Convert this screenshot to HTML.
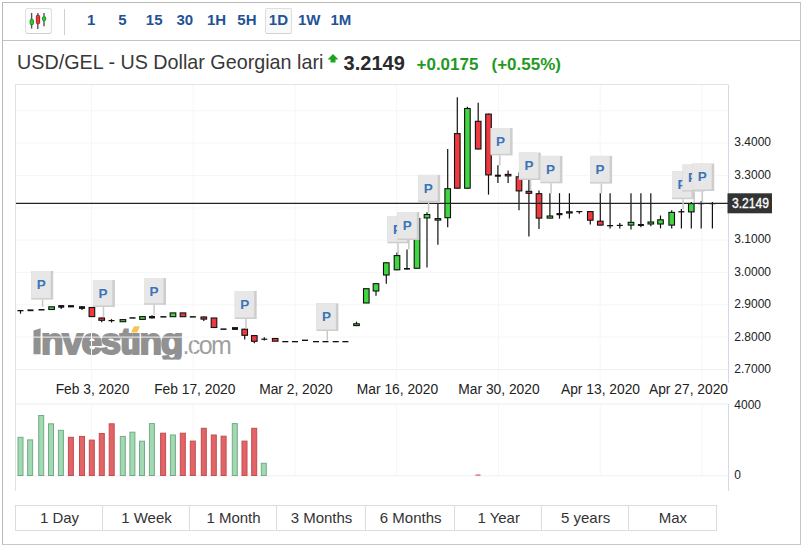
<!DOCTYPE html>
<html><head><meta charset="utf-8"><style>
*{margin:0;padding:0;box-sizing:border-box}
html,body{width:801px;height:546px;overflow:hidden;background:#fff;font-family:"Liberation Sans",sans-serif}
.frame{position:absolute;left:2px;top:2px;width:799px;height:543px;border:1px solid #b9b9b9;border-right-color:#c4c4c4;border-bottom-color:#c8c8c8}
.tb{position:absolute;left:3px;top:40px;width:797px;height:1px;background:#c3c3c3}
.ibox{position:absolute;left:25px;top:8px;width:27px;height:26px;border:1px solid #e0e0e0;border-bottom-color:#d0d0d0;border-radius:3px;background:#fcfcfc}
.sep{position:absolute;left:64px;top:9px;width:1px;height:26px;background:#d0d0d0}
.b{position:absolute;top:11.2px;font-size:15px;font-weight:700;color:#1f5396;line-height:18px}
.sel{position:absolute;left:265px;top:8px;width:27px;height:26px;border:1px solid #dedede;border-bottom-color:#d2d2d2;border-radius:2px;background:#f9f9f9}
.title{position:absolute;left:17.3px;top:51px;font-size:20.3px;color:#383838;white-space:nowrap;line-height:22px;transform:scaleX(0.973);transform-origin:0 0}
.price{position:absolute;left:343.6px;top:52px;font-size:20px;font-weight:700;color:#2a2a2a;line-height:22px}
.chg{position:absolute;top:55px;font-size:17px;font-weight:700;color:#1f9a22;line-height:20px;white-space:nowrap}
.btns{position:absolute;left:15px;top:505px;width:702px;height:26px;border:1px solid #dcdcdc}
.bs{position:absolute;top:506px;width:1px;height:24px;background:#dcdcdc}
.bt{position:absolute;top:506px;height:24px;text-align:center;font-size:15px;color:#333;line-height:24px;white-space:nowrap}
</style></head><body>
<div class="frame"></div>
<div class="tb"></div>
<div class="ibox"></div>
<svg style="position:absolute;left:0;top:0" width="801" height="546">
<g stroke="#555" stroke-width="1.4"><line x1="31.6" y1="13" x2="31.6" y2="28.6"/><line x1="37.8" y1="13" x2="37.8" y2="28.9"/><line x1="44" y1="13" x2="44" y2="26.2"/></g>
<rect x="30.2" y="19.4" width="3.2" height="5.2" rx="1" fill="#2fcc2f" stroke="#178a17" stroke-width="1"/>
<rect x="36.4" y="15.3" width="3.2" height="8.4" rx="1" fill="#ec3b3b" stroke="#a51c1c" stroke-width="1"/>
<rect x="42.5" y="16.8" width="3.2" height="3.8" rx="1" fill="#2fcc2f" stroke="#178a17" stroke-width="1"/>
</svg>
<div class="sep"></div>
<div class="sel"></div>
<div class="b" style="left:87px">1</div>
<div class="b" style="left:118.2px">5</div>
<div class="b" style="left:145.8px">15</div>
<div class="b" style="left:176.5px">30</div>
<div class="b" style="left:206.9px">1H</div>
<div class="b" style="left:237.3px">5H</div>
<div class="b" style="left:268.8px">1D</div>
<div class="b" style="left:298px">1W</div>
<div class="b" style="left:330.5px">1M</div>
<div class="title">USD/GEL - US Dollar Georgian lari</div>
<svg style="position:absolute;left:327px;top:53px" width="13" height="11"><polygon points="6,1 11.5,6.5 8.5,6.5 8.5,9.5 3.5,9.5 3.5,6.5 0.5,6.5" fill="#1ea51e"/></svg>
<div class="price">3.2149</div>
<div class="chg" style="left:416.5px">+0.0175</div>
<div class="chg" style="left:491.5px">(+0.55%)</div>
<svg style="position:absolute;left:0;top:0" width="801" height="546">
<path d="M15.5,491 V84.5 H728.5" fill="none" stroke="#e2e2e2" stroke-width="1"/>
<line x1="15.5" y1="475.8" x2="728" y2="475.8" stroke="#efefef"/>
<line x1="15.5" y1="369.5" x2="728" y2="369.5" stroke="#eeeeee"/>
<line x1="15.5" y1="404" x2="728" y2="404" stroke="#ececec"/>
<defs><clipPath id="wmc"><rect x="0" y="300" width="801" height="59.5"/></clipPath></defs>
<g clip-path="url(#wmc)">
<polygon points="33.5,330.5 40.6,328.3 40.6,354.3 33.5,354.3" fill="#919191"/>
<text x="41" y="354.3" font-family="Liberation Sans" font-weight="700" font-size="37" fill="#919191" stroke="#919191" stroke-width="2" letter-spacing="-1.4">nvestıng</text>
<text x="182.5" y="354" font-family="Liberation Sans" font-size="25" fill="#a0a0a0" letter-spacing="-1.6">.com</text>
</g>
<polygon points="131,332.5 134,326.3 139.8,326.3 137.4,332.5" fill="#f2c45a"/>
<line x1="16" y1="110.8" x2="728" y2="110.8" stroke="#f6f6f6" stroke-width="1"/>
<line x1="16" y1="143.1" x2="728" y2="143.1" stroke="#f6f6f6" stroke-width="1"/>
<line x1="16" y1="175.5" x2="728" y2="175.5" stroke="#f6f6f6" stroke-width="1"/>
<line x1="16" y1="207.8" x2="728" y2="207.8" stroke="#f6f6f6" stroke-width="1"/>
<line x1="16" y1="240.1" x2="728" y2="240.1" stroke="#f6f6f6" stroke-width="1"/>
<line x1="16" y1="272.4" x2="728" y2="272.4" stroke="#f6f6f6" stroke-width="1"/>
<line x1="16" y1="304.8" x2="728" y2="304.8" stroke="#f6f6f6" stroke-width="1"/>
<line x1="16" y1="337.1" x2="728" y2="337.1" stroke="#f6f6f6" stroke-width="1"/>
<line x1="91.5" y1="85" x2="91.5" y2="382" stroke="#f6f6f6" stroke-width="1"/>
<line x1="91.5" y1="404" x2="91.5" y2="475" stroke="#f6f6f6" stroke-width="1"/>
<line x1="193.2" y1="85" x2="193.2" y2="382" stroke="#f6f6f6" stroke-width="1"/>
<line x1="193.2" y1="404" x2="193.2" y2="475" stroke="#f6f6f6" stroke-width="1"/>
<line x1="295" y1="85" x2="295" y2="382" stroke="#f6f6f6" stroke-width="1"/>
<line x1="295" y1="404" x2="295" y2="475" stroke="#f6f6f6" stroke-width="1"/>
<line x1="396.7" y1="85" x2="396.7" y2="382" stroke="#f6f6f6" stroke-width="1"/>
<line x1="396.7" y1="404" x2="396.7" y2="475" stroke="#f6f6f6" stroke-width="1"/>
<line x1="498.5" y1="85" x2="498.5" y2="382" stroke="#f6f6f6" stroke-width="1"/>
<line x1="498.5" y1="404" x2="498.5" y2="475" stroke="#f6f6f6" stroke-width="1"/>
<line x1="600.2" y1="85" x2="600.2" y2="382" stroke="#f6f6f6" stroke-width="1"/>
<line x1="600.2" y1="404" x2="600.2" y2="475" stroke="#f6f6f6" stroke-width="1"/>
<line x1="701.9" y1="85" x2="701.9" y2="382" stroke="#f6f6f6" stroke-width="1"/>
<line x1="701.9" y1="404" x2="701.9" y2="475" stroke="#f6f6f6" stroke-width="1"/>
<line x1="728.5" y1="85" x2="728.5" y2="383" stroke="#d8d8e4"/>
<line x1="728.5" y1="404" x2="728.5" y2="491" stroke="#d8d8e4"/>
<rect x="18.0" y="437.3" width="5" height="38.2" fill="#a2d8b2" stroke="#72ac86" stroke-width="1"/>
<rect x="27.6" y="439.9" width="5" height="35.6" fill="#a2d8b2" stroke="#72ac86" stroke-width="1"/>
<rect x="38.7" y="415.5" width="5" height="60.0" fill="#a2d8b2" stroke="#72ac86" stroke-width="1"/>
<rect x="48.5" y="423.8" width="5" height="51.7" fill="#a2d8b2" stroke="#72ac86" stroke-width="1"/>
<rect x="58.4" y="430.3" width="5" height="45.2" fill="#a2d8b2" stroke="#72ac86" stroke-width="1"/>
<rect x="68.4" y="437.3" width="5" height="38.2" fill="#e26466" stroke="#c24e50" stroke-width="1"/>
<rect x="79.5" y="436.4" width="5" height="39.1" fill="#e26466" stroke="#c24e50" stroke-width="1"/>
<rect x="89.3" y="440.1" width="5" height="35.4" fill="#e26466" stroke="#c24e50" stroke-width="1"/>
<rect x="99.3" y="433.5" width="5" height="42.0" fill="#e26466" stroke="#c24e50" stroke-width="1"/>
<rect x="109.2" y="423.8" width="5" height="51.7" fill="#e26466" stroke="#c24e50" stroke-width="1"/>
<rect x="120.3" y="436.4" width="5" height="39.1" fill="#a2d8b2" stroke="#72ac86" stroke-width="1"/>
<rect x="129.9" y="432.2" width="5" height="43.3" fill="#a2d8b2" stroke="#72ac86" stroke-width="1"/>
<rect x="139.5" y="441.2" width="5" height="34.3" fill="#a2d8b2" stroke="#72ac86" stroke-width="1"/>
<rect x="149.4" y="423.6" width="5" height="51.9" fill="#a2d8b2" stroke="#72ac86" stroke-width="1"/>
<rect x="160.6" y="433.2" width="5" height="42.3" fill="#e26466" stroke="#c24e50" stroke-width="1"/>
<rect x="170.4" y="435.0" width="5" height="40.5" fill="#a2d8b2" stroke="#72ac86" stroke-width="1"/>
<rect x="180.3" y="433.2" width="5" height="42.3" fill="#e26466" stroke="#c24e50" stroke-width="1"/>
<rect x="190.3" y="441.1" width="5" height="34.4" fill="#e26466" stroke="#c24e50" stroke-width="1"/>
<rect x="201.3" y="428.3" width="5" height="47.2" fill="#e26466" stroke="#c24e50" stroke-width="1"/>
<rect x="211.3" y="435.0" width="5" height="40.5" fill="#e26466" stroke="#c24e50" stroke-width="1"/>
<rect x="221.1" y="436.2" width="5" height="39.3" fill="#e26466" stroke="#c24e50" stroke-width="1"/>
<rect x="232.3" y="423.6" width="5" height="51.9" fill="#a2d8b2" stroke="#72ac86" stroke-width="1"/>
<rect x="242.0" y="441.1" width="5" height="34.4" fill="#e26466" stroke="#c24e50" stroke-width="1"/>
<rect x="251.7" y="428.3" width="5" height="47.2" fill="#e26466" stroke="#c24e50" stroke-width="1"/>
<rect x="261.3" y="463.3" width="5" height="12.2" fill="#a2d8b2" stroke="#72ac86" stroke-width="1"/>
<rect x="475.5" y="474.5" width="5" height="1.2" fill="#d05a5c"/>
<line x1="20.5" y1="310.0" x2="20.5" y2="313.7" stroke="#111" stroke-width="1.2"/>
<rect x="17.5" y="310.0" width="6" height="1.3" fill="#111"/>
<rect x="27.5" y="309.4" width="6" height="1.8" fill="#111"/>
<rect x="38.5" y="309.0" width="6" height="1.5" fill="#111"/>
<rect x="48.8" y="306.8" width="5.6" height="2.7" fill="#3fd63f" stroke="#111" stroke-width="1.1"/>
<line x1="61.2" y1="305.1" x2="61.2" y2="308.9" stroke="#111" stroke-width="1.2"/>
<rect x="58.2" y="305.1" width="6" height="2.6" fill="#111"/>
<rect x="68.0" y="305.1" width="6" height="2.3" fill="#111"/>
<line x1="82.0" y1="306.2" x2="82.0" y2="310.0" stroke="#111" stroke-width="1.2"/>
<rect x="79.0" y="306.2" width="6" height="2.7" fill="#111"/>
<rect x="89.1" y="307.5" width="5.6" height="9.1" fill="#ee3a3f" stroke="#111" stroke-width="1.1"/>
<line x1="101.7" y1="317.5" x2="101.7" y2="322.3" stroke="#111" stroke-width="1.2"/>
<rect x="98.9" y="318.0" width="5.6" height="2.3" fill="#ee3a3f" stroke="#111" stroke-width="1.1"/>
<line x1="111.5" y1="319.1" x2="111.5" y2="322.5" stroke="#111" stroke-width="1.2"/>
<rect x="108.5" y="320.0" width="6" height="1.2" fill="#111"/>
<rect x="120.1" y="319.6" width="5.6" height="2.1" fill="#3fd63f" stroke="#111" stroke-width="1.1"/>
<rect x="129.5" y="317.2" width="6" height="1.5" fill="#111"/>
<rect x="139.7" y="316.6" width="5.6" height="2.8" fill="#3fd63f" stroke="#111" stroke-width="1.1"/>
<line x1="152.0" y1="315.2" x2="152.0" y2="318.4" stroke="#111" stroke-width="1.2"/>
<rect x="149.0" y="316.0" width="6" height="2.4" fill="#111"/>
<rect x="160.4" y="316.1" width="6" height="1.5" fill="#111"/>
<rect x="170.2" y="312.9" width="5.6" height="3.8" fill="#3fd63f" stroke="#111" stroke-width="1.1"/>
<rect x="180.2" y="312.9" width="5.6" height="3.8" fill="#ee3a3f" stroke="#111" stroke-width="1.1"/>
<rect x="189.8" y="316.1" width="6" height="1.5" fill="#111"/>
<line x1="203.8" y1="316.5" x2="203.8" y2="321.0" stroke="#111" stroke-width="1.2"/>
<rect x="201.0" y="317.0" width="5.6" height="2.1" fill="#ee3a3f" stroke="#111" stroke-width="1.1"/>
<rect x="211.2" y="318.0" width="5.6" height="9.5" fill="#ee3a3f" stroke="#111" stroke-width="1.1"/>
<rect x="220.5" y="328.4" width="6" height="1.5" fill="#111"/>
<rect x="232.0" y="327.1" width="6" height="2.8" fill="#111"/>
<line x1="244.7" y1="328.7" x2="244.7" y2="339.6" stroke="#111" stroke-width="1.2"/>
<rect x="241.9" y="329.2" width="5.6" height="6.1" fill="#ee3a3f" stroke="#111" stroke-width="1.1"/>
<line x1="254.3" y1="335.1" x2="254.3" y2="343.3" stroke="#111" stroke-width="1.2"/>
<rect x="251.5" y="335.6" width="5.6" height="5.7" fill="#ee3a3f" stroke="#111" stroke-width="1.1"/>
<line x1="264.3" y1="337.2" x2="264.3" y2="340.6" stroke="#111" stroke-width="1.2"/>
<rect x="261.3" y="338.6" width="6" height="1.2" fill="#111"/>
<rect x="272.4" y="338.5" width="5.6" height="2.7" fill="#ee3a3f" stroke="#111" stroke-width="1.1"/>
<rect x="282.3" y="341.0" width="6" height="1.3" fill="#111"/>
<rect x="292.0" y="341.0" width="6" height="1.3" fill="#111"/>
<rect x="302.0" y="339.6" width="6" height="1.4" fill="#111"/>
<rect x="313.0" y="341.0" width="6" height="1.3" fill="#111"/>
<rect x="322.5" y="341.0" width="6" height="1.3" fill="#111"/>
<rect x="332.7" y="341.0" width="6" height="1.3" fill="#111"/>
<rect x="342.4" y="341.0" width="6" height="1.3" fill="#111"/>
<line x1="356.5" y1="321.7" x2="356.5" y2="326.1" stroke="#111" stroke-width="1.2"/>
<rect x="353.7" y="323.8" width="5.6" height="1.8" fill="#3fd63f" stroke="#111" stroke-width="1.1"/>
<rect x="363.5" y="288.7" width="5.6" height="14.3" fill="#3fd63f" stroke="#111" stroke-width="1.1"/>
<line x1="376.0" y1="283.2" x2="376.0" y2="295.8" stroke="#111" stroke-width="1.2"/>
<rect x="373.2" y="283.7" width="5.6" height="7.3" fill="#3fd63f" stroke="#111" stroke-width="1.1"/>
<line x1="386.3" y1="262.3" x2="386.3" y2="283.7" stroke="#111" stroke-width="1.2"/>
<rect x="383.5" y="262.8" width="5.6" height="12.2" fill="#3fd63f" stroke="#111" stroke-width="1.1"/>
<line x1="397.0" y1="252.4" x2="397.0" y2="270.3" stroke="#111" stroke-width="1.2"/>
<rect x="394.2" y="255.6" width="5.6" height="14.2" fill="#3fd63f" stroke="#111" stroke-width="1.1"/>
<line x1="407.0" y1="249.6" x2="407.0" y2="269.6" stroke="#111" stroke-width="1.2"/>
<rect x="404.0" y="268.0" width="6" height="1.6" fill="#111"/>
<rect x="414.2" y="218.5" width="5.6" height="49.8" fill="#3fd63f" stroke="#111" stroke-width="1.1"/>
<line x1="427.0" y1="212.3" x2="427.0" y2="267.5" stroke="#111" stroke-width="1.2"/>
<rect x="424.2" y="214.5" width="5.6" height="3.4" fill="#3fd63f" stroke="#111" stroke-width="1.1"/>
<line x1="437.9" y1="203.3" x2="437.9" y2="244.8" stroke="#111" stroke-width="1.2"/>
<rect x="435.1" y="218.6" width="5.6" height="1.5" fill="#3fd63f" stroke="#111" stroke-width="1.1"/>
<line x1="447.7" y1="149.0" x2="447.7" y2="227.2" stroke="#111" stroke-width="1.2"/>
<rect x="444.9" y="188.7" width="5.6" height="29.0" fill="#3fd63f" stroke="#111" stroke-width="1.1"/>
<line x1="457.3" y1="97.2" x2="457.3" y2="188.7" stroke="#111" stroke-width="1.2"/>
<rect x="454.5" y="133.6" width="5.6" height="54.6" fill="#ee3a3f" stroke="#111" stroke-width="1.1"/>
<line x1="467.4" y1="106.8" x2="467.4" y2="188.7" stroke="#111" stroke-width="1.2"/>
<rect x="464.6" y="108.5" width="5.6" height="79.7" fill="#3fd63f" stroke="#111" stroke-width="1.1"/>
<line x1="478.2" y1="102.8" x2="478.2" y2="149.5" stroke="#111" stroke-width="1.2"/>
<rect x="475.4" y="121.3" width="5.6" height="27.7" fill="#ee3a3f" stroke="#111" stroke-width="1.1"/>
<line x1="488.5" y1="113.6" x2="488.5" y2="194.6" stroke="#111" stroke-width="1.2"/>
<rect x="485.7" y="114.1" width="5.6" height="60.8" fill="#ee3a3f" stroke="#111" stroke-width="1.1"/>
<line x1="497.9" y1="165.2" x2="497.9" y2="183.0" stroke="#111" stroke-width="1.2"/>
<rect x="494.9" y="174.7" width="6" height="2.0" fill="#111"/>
<line x1="508.1" y1="170.6" x2="508.1" y2="183.0" stroke="#111" stroke-width="1.2"/>
<rect x="505.3" y="174.4" width="5.6" height="1.5" fill="#ee3a3f" stroke="#111" stroke-width="1.1"/>
<line x1="519.0" y1="172.6" x2="519.0" y2="210.3" stroke="#111" stroke-width="1.2"/>
<rect x="516.2" y="176.8" width="5.6" height="14.1" fill="#ee3a3f" stroke="#111" stroke-width="1.1"/>
<line x1="528.9" y1="179.7" x2="528.9" y2="236.4" stroke="#111" stroke-width="1.2"/>
<rect x="526.1" y="191.3" width="5.6" height="2.0" fill="#ee3a3f" stroke="#111" stroke-width="1.1"/>
<line x1="539.0" y1="190.4" x2="539.0" y2="228.9" stroke="#111" stroke-width="1.2"/>
<rect x="536.2" y="193.7" width="5.6" height="24.4" fill="#ee3a3f" stroke="#111" stroke-width="1.1"/>
<line x1="549.9" y1="193.2" x2="549.9" y2="218.6" stroke="#111" stroke-width="1.2"/>
<rect x="547.1" y="216.0" width="5.6" height="2.1" fill="#3fd63f" stroke="#111" stroke-width="1.1"/>
<line x1="559.5" y1="193.2" x2="559.5" y2="218.7" stroke="#111" stroke-width="1.2"/>
<rect x="556.5" y="213.0" width="6" height="2.2" fill="#111"/>
<line x1="569.4" y1="193.2" x2="569.4" y2="218.5" stroke="#111" stroke-width="1.2"/>
<rect x="566.6" y="211.8" width="5.6" height="1.2" fill="#3fd63f" stroke="#111" stroke-width="1.1"/>
<line x1="579.3" y1="211.0" x2="579.3" y2="213.8" stroke="#111" stroke-width="1.2"/>
<rect x="576.3" y="211.0" width="6" height="1.2" fill="#111"/>
<line x1="590.3" y1="211.1" x2="590.3" y2="224.5" stroke="#111" stroke-width="1.2"/>
<rect x="587.5" y="211.6" width="5.6" height="8.6" fill="#ee3a3f" stroke="#111" stroke-width="1.1"/>
<line x1="600.3" y1="193.2" x2="600.3" y2="225.6" stroke="#111" stroke-width="1.2"/>
<rect x="597.5" y="221.2" width="5.6" height="3.9" fill="#ee3a3f" stroke="#111" stroke-width="1.1"/>
<line x1="610.1" y1="193.2" x2="610.1" y2="228.4" stroke="#111" stroke-width="1.2"/>
<rect x="607.1" y="225.0" width="6" height="1.3" fill="#111"/>
<line x1="619.8" y1="222.9" x2="619.8" y2="228.4" stroke="#111" stroke-width="1.2"/>
<rect x="616.8" y="224.8" width="6" height="1.2" fill="#111"/>
<line x1="631.0" y1="193.2" x2="631.0" y2="229.5" stroke="#111" stroke-width="1.2"/>
<rect x="628.2" y="222.3" width="5.6" height="2.8" fill="#3fd63f" stroke="#111" stroke-width="1.1"/>
<line x1="640.9" y1="193.2" x2="640.9" y2="227.3" stroke="#111" stroke-width="1.2"/>
<rect x="637.9" y="224.0" width="6" height="2.0" fill="#111"/>
<line x1="650.8" y1="193.2" x2="650.8" y2="226.2" stroke="#111" stroke-width="1.2"/>
<rect x="648.0" y="222.0" width="5.6" height="2.0" fill="#3fd63f" stroke="#111" stroke-width="1.1"/>
<line x1="660.5" y1="215.5" x2="660.5" y2="228.4" stroke="#111" stroke-width="1.2"/>
<rect x="657.7" y="219.8" width="5.6" height="4.2" fill="#3fd63f" stroke="#111" stroke-width="1.1"/>
<line x1="671.7" y1="210.2" x2="671.7" y2="228.4" stroke="#111" stroke-width="1.2"/>
<rect x="668.9" y="212.4" width="5.6" height="12.7" fill="#3fd63f" stroke="#111" stroke-width="1.1"/>
<line x1="681.4" y1="209.1" x2="681.4" y2="228.4" stroke="#111" stroke-width="1.2"/>
<rect x="678.4" y="211.1" width="6" height="1.3" fill="#111"/>
<line x1="691.3" y1="202.0" x2="691.3" y2="228.4" stroke="#111" stroke-width="1.2"/>
<rect x="688.5" y="203.6" width="5.6" height="8.3" fill="#3fd63f" stroke="#111" stroke-width="1.1"/>
<line x1="701.2" y1="200.9" x2="701.2" y2="228.4" stroke="#111" stroke-width="1.2"/>
<rect x="698.2" y="203.0" width="6" height="1.2" fill="#111"/>
<line x1="712.4" y1="202.0" x2="712.4" y2="228.4" stroke="#111" stroke-width="1.2"/>
<rect x="709.4" y="203.0" width="6" height="1.2" fill="#111"/>
<line x1="16" y1="203.4" x2="728" y2="203.4" stroke="#222" stroke-width="1.1"/>
<line x1="42.6" y1="299.6" x2="42.6" y2="307.0" stroke="#c9c9c9" stroke-width="1.5"/>
<g transform="translate(31.2,271.0)"><rect x="0" y="0" width="22" height="28.6" fill="#cdcdcd"/><rect x="0" y="0" width="19.5" height="27.1" fill="#e7e7e7"/><text x="10" y="18.4" text-anchor="middle" font-family="Liberation Sans" font-weight="700" font-size="13.5" fill="#3a74b8">P</text></g>
<line x1="103.5" y1="307.0" x2="103.5" y2="317.0" stroke="#c9c9c9" stroke-width="1.5"/>
<g transform="translate(92.9,280.0)"><rect x="0" y="0" width="22" height="27.0" fill="#cdcdcd"/><rect x="0" y="0" width="19.5" height="25.5" fill="#e7e7e7"/><text x="10" y="17.6" text-anchor="middle" font-family="Liberation Sans" font-weight="700" font-size="13.5" fill="#3a74b8">P</text></g>
<line x1="154.1" y1="304.8" x2="154.1" y2="315.5" stroke="#c9c9c9" stroke-width="1.5"/>
<g transform="translate(144.0,278.0)"><rect x="0" y="0" width="22" height="26.8" fill="#cdcdcd"/><rect x="0" y="0" width="19.5" height="25.3" fill="#e7e7e7"/><text x="10" y="17.5" text-anchor="middle" font-family="Liberation Sans" font-weight="700" font-size="13.5" fill="#3a74b8">P</text></g>
<line x1="246.0" y1="319.0" x2="246.0" y2="328.5" stroke="#c9c9c9" stroke-width="1.5"/>
<g transform="translate(234.7,291.0)"><rect x="0" y="0" width="22" height="28.0" fill="#cdcdcd"/><rect x="0" y="0" width="19.5" height="26.5" fill="#e7e7e7"/><text x="10" y="18.1" text-anchor="middle" font-family="Liberation Sans" font-weight="700" font-size="13.5" fill="#3a74b8">P</text></g>
<line x1="327.3" y1="331.0" x2="327.3" y2="340.5" stroke="#c9c9c9" stroke-width="1.5"/>
<g transform="translate(316.4,303.3)"><rect x="0" y="0" width="22" height="27.7" fill="#cdcdcd"/><rect x="0" y="0" width="19.5" height="26.2" fill="#e7e7e7"/><text x="10" y="17.9" text-anchor="middle" font-family="Liberation Sans" font-weight="700" font-size="13.5" fill="#3a74b8">P</text></g>
<line x1="398.1" y1="243.3" x2="398.1" y2="255.0" stroke="#c9c9c9" stroke-width="1.5"/>
<g transform="translate(387.4,216.1)"><rect x="0" y="0" width="22" height="27.2" fill="#cdcdcd"/><rect x="0" y="0" width="19.5" height="25.7" fill="#e7e7e7"/><text x="10" y="17.7" text-anchor="middle" font-family="Liberation Sans" font-weight="700" font-size="13.5" fill="#3a74b8">P</text></g>
<line x1="408.8" y1="240.0" x2="408.8" y2="249.5" stroke="#c9c9c9" stroke-width="1.5"/>
<g transform="translate(397.3,212.0)"><rect x="0" y="0" width="22" height="28.0" fill="#cdcdcd"/><rect x="0" y="0" width="19.5" height="26.5" fill="#e7e7e7"/><text x="10" y="18.1" text-anchor="middle" font-family="Liberation Sans" font-weight="700" font-size="13.5" fill="#3a74b8">P</text></g>
<line x1="428.6" y1="202.3" x2="428.6" y2="212.5" stroke="#c9c9c9" stroke-width="1.5"/>
<g transform="translate(418.2,174.9)"><rect x="0" y="0" width="22" height="27.4" fill="#cdcdcd"/><rect x="0" y="0" width="19.5" height="25.9" fill="#e7e7e7"/><text x="10" y="17.8" text-anchor="middle" font-family="Liberation Sans" font-weight="700" font-size="13.5" fill="#3a74b8">P</text></g>
<line x1="499.8" y1="155.4" x2="499.8" y2="165.5" stroke="#c9c9c9" stroke-width="1.5"/>
<g transform="translate(490.6,128.1)"><rect x="0" y="0" width="22" height="27.3" fill="#cdcdcd"/><rect x="0" y="0" width="19.5" height="25.8" fill="#e7e7e7"/><text x="10" y="17.8" text-anchor="middle" font-family="Liberation Sans" font-weight="700" font-size="13.5" fill="#3a74b8">P</text></g>
<line x1="530.6" y1="180.0" x2="530.6" y2="190.5" stroke="#c9c9c9" stroke-width="1.5"/>
<g transform="translate(518.9,152.6)"><rect x="0" y="0" width="22" height="27.4" fill="#cdcdcd"/><rect x="0" y="0" width="19.5" height="25.9" fill="#e7e7e7"/><text x="10" y="17.8" text-anchor="middle" font-family="Liberation Sans" font-weight="700" font-size="13.5" fill="#3a74b8">P</text></g>
<line x1="551.1" y1="183.3" x2="551.1" y2="193.5" stroke="#c9c9c9" stroke-width="1.5"/>
<g transform="translate(540.4,155.9)"><rect x="0" y="0" width="22" height="27.4" fill="#cdcdcd"/><rect x="0" y="0" width="19.5" height="25.9" fill="#e7e7e7"/><text x="10" y="17.8" text-anchor="middle" font-family="Liberation Sans" font-weight="700" font-size="13.5" fill="#3a74b8">P</text></g>
<line x1="601.4" y1="183.6" x2="601.4" y2="193.5" stroke="#c9c9c9" stroke-width="1.5"/>
<g transform="translate(590.1,155.9)"><rect x="0" y="0" width="22" height="27.7" fill="#cdcdcd"/><rect x="0" y="0" width="19.5" height="26.2" fill="#e7e7e7"/><text x="10" y="17.9" text-anchor="middle" font-family="Liberation Sans" font-weight="700" font-size="13.5" fill="#3a74b8">P</text></g>
<line x1="683.1" y1="199.2" x2="683.1" y2="209.5" stroke="#c9c9c9" stroke-width="1.5"/>
<g transform="translate(672.0,171.1)"><rect x="0" y="0" width="22" height="28.1" fill="#cdcdcd"/><rect x="0" y="0" width="19.5" height="26.6" fill="#e7e7e7"/><text x="10" y="18.1" text-anchor="middle" font-family="Liberation Sans" font-weight="700" font-size="13.5" fill="#3a74b8">P</text></g>
<line x1="694.2" y1="191.6" x2="694.2" y2="202.5" stroke="#c9c9c9" stroke-width="1.5"/>
<g transform="translate(682.6,164.6)"><rect x="0" y="0" width="22" height="27.0" fill="#cdcdcd"/><rect x="0" y="0" width="19.5" height="25.5" fill="#e7e7e7"/><text x="10" y="17.6" text-anchor="middle" font-family="Liberation Sans" font-weight="700" font-size="13.5" fill="#3a74b8">P</text></g>
<line x1="702.3" y1="191.0" x2="702.3" y2="203.0" stroke="#c9c9c9" stroke-width="1.5"/>
<g transform="translate(692.2,163.6)"><rect x="0" y="0" width="22" height="27.4" fill="#cdcdcd"/><rect x="0" y="0" width="19.5" height="25.9" fill="#e7e7e7"/><text x="10" y="17.8" text-anchor="middle" font-family="Liberation Sans" font-weight="700" font-size="13.5" fill="#3a74b8">P</text></g>
<rect x="727.5" y="193.3" width="44.5" height="20" fill="#333"/>
<text x="732" y="208" font-family="Liberation Sans" font-size="14" font-weight="400" fill="#fff" stroke="#fff" stroke-width="0.35" textLength="37" lengthAdjust="spacingAndGlyphs">3.2149</text>
<text x="734.3" y="146.0" font-family="Liberation Sans" font-size="12" fill="#222">3.4000</text>
<text x="734.3" y="178.7" font-family="Liberation Sans" font-size="12" fill="#222">3.3000</text>
<text x="734.3" y="242.9" font-family="Liberation Sans" font-size="12" fill="#222">3.1000</text>
<text x="734.3" y="275.6" font-family="Liberation Sans" font-size="12" fill="#222">3.0000</text>
<text x="734.3" y="308.3" font-family="Liberation Sans" font-size="12" fill="#222">2.9000</text>
<text x="734.3" y="340.9" font-family="Liberation Sans" font-size="12" fill="#222">2.8000</text>
<text x="734.3" y="372.8" font-family="Liberation Sans" font-size="12" fill="#222">2.7000</text>
<text x="734.3" y="409.3" font-family="Liberation Sans" font-size="12" fill="#222">4000</text>
<text x="734.3" y="478.9" font-family="Liberation Sans" font-size="12" fill="#222">0</text>
<text x="92.5" y="393.9" text-anchor="middle" font-family="Liberation Sans" font-size="13.8" fill="#222">Feb 3, 2020</text>
<text x="194.8" y="393.9" text-anchor="middle" font-family="Liberation Sans" font-size="13.8" fill="#222">Feb 17, 2020</text>
<text x="296" y="393.9" text-anchor="middle" font-family="Liberation Sans" font-size="13.8" fill="#222">Mar 2, 2020</text>
<text x="397.5" y="393.9" text-anchor="middle" font-family="Liberation Sans" font-size="13.8" fill="#222">Mar 16, 2020</text>
<text x="499" y="393.9" text-anchor="middle" font-family="Liberation Sans" font-size="13.8" fill="#222">Mar 30, 2020</text>
<text x="600.5" y="393.9" text-anchor="middle" font-family="Liberation Sans" font-size="13.8" fill="#222">Apr 13, 2020</text>
<text x="688.5" y="393.9" text-anchor="middle" font-family="Liberation Sans" font-size="13.8" fill="#222">Apr 27, 2020</text>
</svg>
<div class="btns"></div>
<div class="bs" style="left:102px"></div>
<div class="bs" style="left:189px"></div>
<div class="bs" style="left:276px"></div>
<div class="bs" style="left:365px"></div>
<div class="bs" style="left:454px"></div>
<div class="bs" style="left:541px"></div>
<div class="bs" style="left:628px"></div>
<div class="bt" style="left:9.5px;width:100px">1 Day</div>
<div class="bt" style="left:96.5px;width:100px">1 Week</div>
<div class="bt" style="left:183.5px;width:100px">1 Month</div>
<div class="bt" style="left:271.5px;width:100px">3 Months</div>
<div class="bt" style="left:360.7px;width:100px">6 Months</div>
<div class="bt" style="left:448.7px;width:100px">1 Year</div>
<div class="bt" style="left:535.6px;width:100px">5 years</div>
<div class="bt" style="left:622.9px;width:100px">Max</div>
</body></html>
